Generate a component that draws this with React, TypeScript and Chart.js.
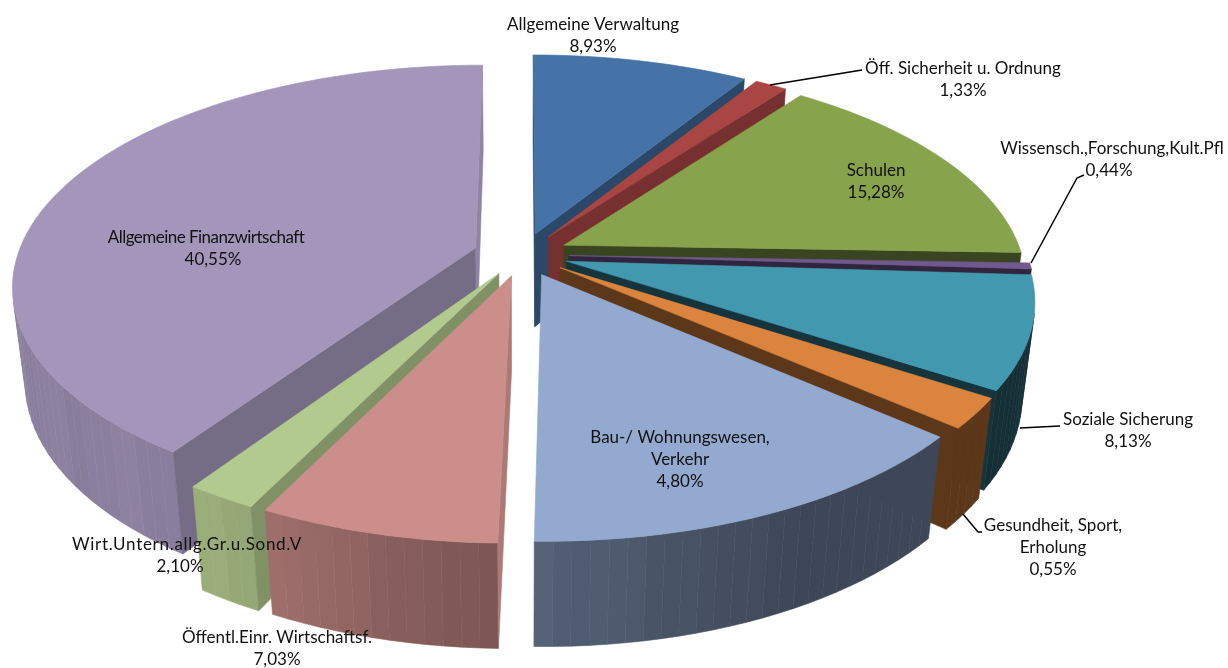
import React, { useEffect, useRef } from "react";
import { Chart, registerables } from "chart.js";

Chart.register(...registerables);

const categories = [
  "Allgemeine Verwaltung",
  "Öff. Sicherheit u. Ordnung",
  "Schulen",
  "Wissensch.,Forschung,Kult.Pfl",
  "Soziale Sicherung",
  "Gesundheit, Sport, Erholung",
  "Bau-/ Wohnungswesen, Verkehr",
  "Öffentl.Einr. Wirtschaftsf.",
  "Wirt.Untern.allg.Gr.u.Sond.V",
  "Allgemeine Finanzwirtschaft",
];
// Size of each slice as drawn
const sliceShares = [8.93, 1.33, 15.28, 0.44, 8.13, 2.2, 14.01, 7.03, 2.1, 40.55];
// Percentages as printed on the labels
const printedShares = ["8,93%", "1,33%", "15,28%", "0,44%", "8,13%", "0,55%", "4,80%", "7,03%", "2,10%", "40,55%"];
const topColors = ["#4573A7", "#A94543", "#87A34C", "#71588F", "#4198AF", "#DB843D", "#93A9CF", "#CC8E8A", "#B3CA8E", "#A396BA"];
const explosion = [32, 32, 32, 32, 32, 32, 32, 32, 32, 34];

const labelLines: string[][] = [
  ["Allgemeine Verwaltung"],
  ["Öff. Sicherheit u. Ordnung"],
  ["Schulen"],
  ["Wissensch.,Forschung,Kult.Pfl"],
  ["Soziale Sicherung"],
  ["Gesundheit, Sport,", "Erholung"],
  ["Bau-/ Wohnungswesen,", "Verkehr"],
  ["Öffentl.Einr. Wirtschaftsf."],
  ["Wirt.Untern.allg.Gr.u.Sond.V"],
  ["Allgemeine Finanzwirtschaft"],
];

// Layout of the label blocks (centre x, first-line y, x shift of the percent line, first-line width)
const LABEL_POS = [
  [593, 25, 0, 0], [963, 69, 0, 0], [876, 171, 0, 0], [1112, 149, -3, 0], [1128, 420, 0, 0],
  [1053, 526, 0, 0], [680, 438, 0, 0], [277, 638, 0, 0], [187, 545, -7, 230], [206, 238, 7, 196],
];
const LEADERS = [
  [[770, 85], [862, 70]],
  [[1031, 263], [1077, 178], [1084, 175]],
  [[1020, 428], [1060, 426]],
  [[963, 514], [978, 532], [982, 532]],
];

// Projection of the pie disc to the screen
const P = { x0: 522.5, y0: 254.5, a: 458, b: 215, k: 0.1658, d: 96, q: 0.025 };
// Shade of the radial walls, by slice (start-side wall, end-side wall)
const radialShade = [0.63, 0.7, 0.42, 0.42, 0.34, 0.42, 0.45, 0.85, 0.72, 0.72];
const radialEndShade = [0.63, 0.7, 0.42, 0.42, 0.34, 0.42, 0.45, 0.85, 0.72, 0.88];
const BANDS = [1, 0.985, 1.015, 0.99, 1.02, 0.995, 0.98, 1.005];

function project(u: number, v: number, z: number) {
  const w = 1 - P.k * v + P.q * z;
  return [P.x0 + (P.a * u) / w, P.y0 + (P.b * v + P.d * z) / w];
}
function hexRgb(h: string) {
  return [1, 3, 5].map((i) => parseInt(h.slice(i, i + 2), 16));
}
function shade(rgb: number[], f: number) {
  return `rgb(${rgb.map((c) => Math.max(0, Math.min(255, Math.round(c * f)))).join(",")})`;
}
// Brightness of the outer wall by clockwise-from-top angle in degrees
function wallFactor(deg: number) {
  const stops = [[90, 0.31], [122.8, 0.31], [122.9, 0.42], [150, 0.42], [160, 0.46], [181, 0.57], [182, 0.6], [205, 0.77], [207, 0.84], [214, 0.85], [360, 0.87]];
  for (let i = 1; i < stops.length; i++) {
    if (deg <= stops[i][0]) {
      const [a, fa] = stops[i - 1];
      const [b, fb] = stops[i];
      return fa + ((fb - fa) * Math.max(0, deg - a)) / (b - a);
    }
  }
  return 0.87;
}
function poly(ctx: CanvasRenderingContext2D, pts: number[][], color: string) {
  ctx.beginPath();
  pts.forEach((p, i) => (i ? ctx.lineTo(p[0], p[1]) : ctx.moveTo(p[0], p[1])));
  ctx.closePath();
  ctx.fillStyle = color;
  ctx.strokeStyle = color;
  ctx.lineWidth = 0.6;
  ctx.fill();
  ctx.stroke();
}
function area(p: number[][]) {
  let s = 0;
  for (let i = 0; i < p.length; i++) {
    const q = p[(i + 1) % p.length];
    s += p[i][0] * q[1] - q[0] * p[i][1];
  }
  return s;
}

const pie3d = {
  id: "pie3d",
  beforeDatasetsDraw(chart: any) {
    const ctx: CanvasRenderingContext2D = chart.ctx;
    const arcs = chart.getDatasetMeta(0).data;
    const order = arcs
      .map((el: any, i: number) => ({ el, i, mid: (el.startAngle + el.endAngle) / 2 }))
      .sort((a: any, b: any) => Math.sin(a.mid) - Math.sin(b.mid));
    ctx.save();
    for (const { el, i, mid } of order) {
      const e = el.options.offset / el.outerRadius;
      const ou = Math.cos(mid) * e;
      const ov = Math.sin(mid) * e;
      const rgb = hexRgb(el.options.backgroundColor);
      const n = Math.max(2, Math.ceil(((el.endAngle - el.startAngle) * 180) / Math.PI / 2));
      const rim = (t: number, z: number) => {
        const a = el.startAngle + ((el.endAngle - el.startAngle) * t) / n;
        return project(ou + Math.cos(a), ov + Math.sin(a), z);
      };
      // outer wall strips
      for (let s = 0; s < n; s++) {
        const quad = [rim(s, 0), rim(s + 1, 0), rim(s + 1, 1), rim(s, 1)];
        if (area(quad) >= 0) continue;
        const a = el.startAngle + ((el.endAngle - el.startAngle) * (s + 0.5)) / n;
        const deg = ((a * 180) / Math.PI + 90 + 360) % 360;
        const band = deg < 150 ? 1 : BANDS[Math.floor(deg / 5) % BANDS.length];
        poly(ctx, quad, shade(rgb, wallFactor(deg) * band));
      }
      // radial walls
      const apex0 = project(ou, ov, 0);
      const apex1 = project(ou, ov, 1);
      const w1 = [apex0, apex1, rim(0, 1), rim(0, 0)];
      const w2 = [apex0, rim(n, 0), rim(n, 1), apex1];
      if (area(w1) > 0) poly(ctx, w1, shade(rgb, radialShade[i]));
      if (area(w2) > 0) poly(ctx, w2, shade(rgb, radialEndShade[i]));
      // top face
      const top = [apex0];
      for (let s = 0; s <= n; s++) top.push(rim(s, 0));
      poly(ctx, top, el.options.backgroundColor);
    }
    ctx.restore();
    return false;
  },
  afterDraw(chart: any) {
    const ctx: CanvasRenderingContext2D = chart.ctx;
    ctx.save();
    ctx.strokeStyle = "#000";
    ctx.lineWidth = 1.5;
    for (const line of LEADERS) {
      ctx.beginPath();
      line.forEach((p, i) => (i ? ctx.lineTo(p[0], p[1]) : ctx.moveTo(p[0], p[1])));
      ctx.stroke();
    }
    ctx.fillStyle = "#111";
    ctx.font = "17px Lato";
    ctx.textAlign = "center";
    ctx.textBaseline = "middle";
    categories.forEach((_, i) => {
      const [x, y, pctDx, firstW] = LABEL_POS[i];
      labelLines[i].forEach((t, j) => {
        (ctx as any).letterSpacing = "0px";
        if (j === 0 && firstW) {
          const extra = (firstW - ctx.measureText(t).width) / t.length;
          (ctx as any).letterSpacing = `${extra}px`;
        }
        ctx.fillText(t, x, y + j * 22);
      });
      (ctx as any).letterSpacing = "0px";
      ctx.fillText(printedShares[i], x + pctDx, y + labelLines[i].length * 22);
    });
    ctx.restore();
  },
};

export default function App() {
  const ref = useRef<HTMLCanvasElement>(null);
  useEffect(() => {
    const chart = new Chart(ref.current!, {
      type: "pie",
      data: {
        labels: categories,
        datasets: [{ data: sliceShares, backgroundColor: topColors, borderWidth: 0, offset: explosion }],
      },
      options: {
        animation: false,
        responsive: false,
        layout: { padding: 0 },
        plugins: { legend: { display: false }, tooltip: { enabled: false } },
      },
      plugins: [pie3d],
    } as any);
    return () => chart.destroy();
  }, []);
  return (
    <div style={{ position: "absolute", left: 0, top: 0, width: 1228, height: 668, background: "#fff" }}>
      <canvas ref={ref} width={1228} height={668} style={{ display: "block" }} />
    </div>
  );
}
